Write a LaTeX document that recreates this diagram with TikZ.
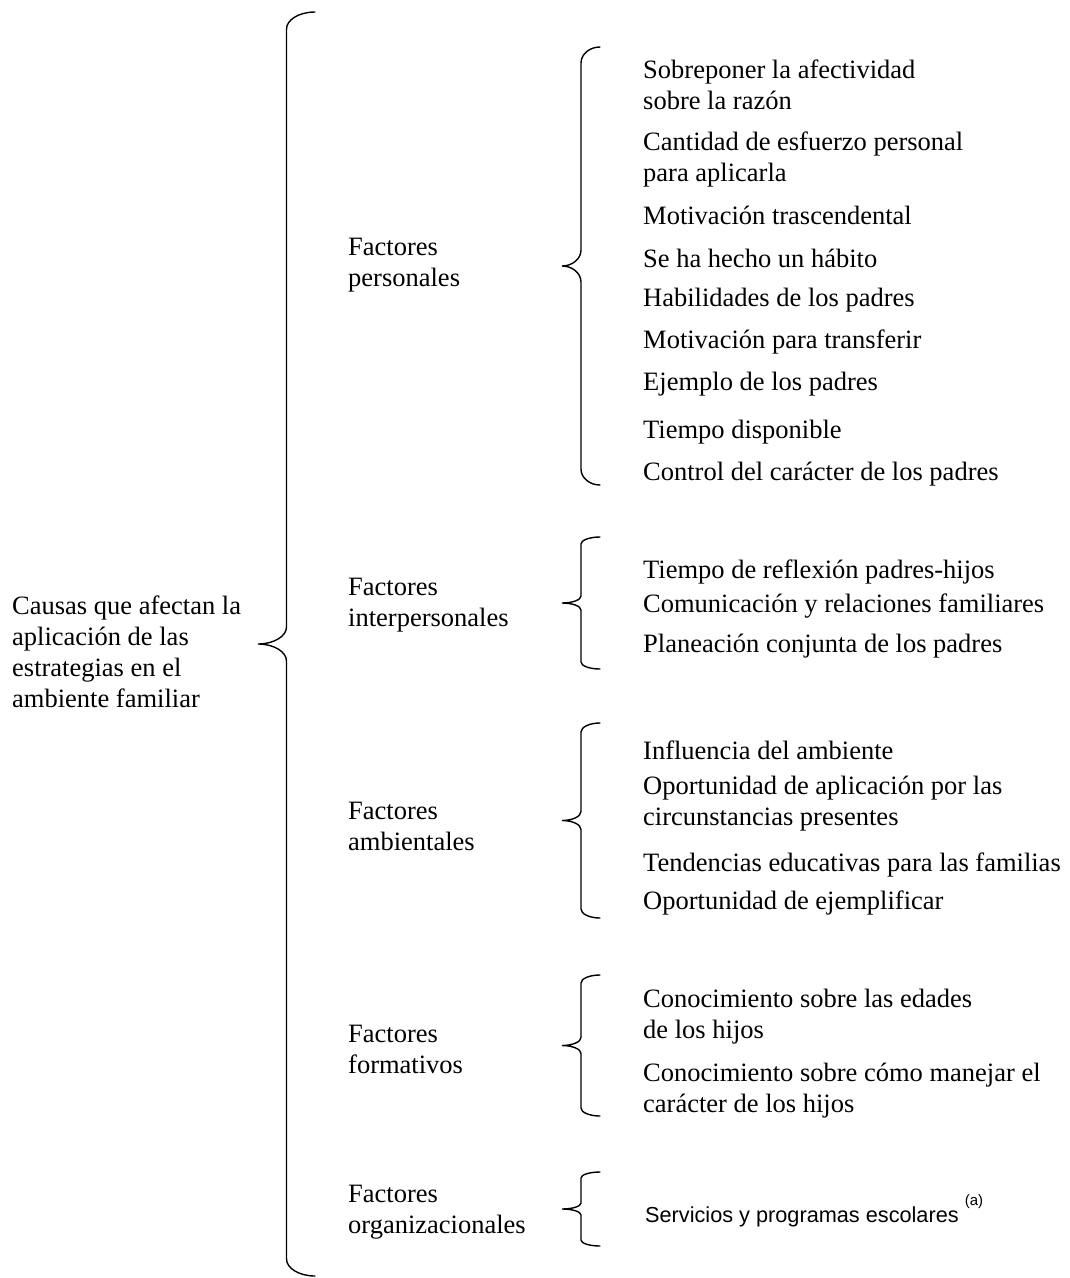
\documentclass[tikz,border=0pt]{standalone}
\usepackage{fontspec}
\setmainfont{Liberation Serif}
\setsansfont{Liberation Sans}

% curly brace: end x, top y, bottom y, half width, curl length
\newcommand{\fbrace}[5]{%
  \pgfmathsetmacro{\bmid}{(#2+#3)/2}%
  \pgfmathsetmacro{\bline}{#1-#4}%
  \pgfmathsetmacro{\btip}{#1-2*#4}%
  \draw[brace line] (#1,#2)
    .. controls (#1-0.55*#4,#2) and (\bline,#2+0.45*#5) .. (\bline,#2+#5)
    -- (\bline,\bmid-#5)
    .. controls (\bline,\bmid-0.45*#5) and (\btip+0.55*#4,\bmid) .. (\btip,\bmid)
    .. controls (\btip+0.55*#4,\bmid) and (\bline,\bmid+0.45*#5) .. (\bline,\bmid+#5)
    -- (\bline,#3-#5)
    .. controls (\bline,#3-0.45*#5) and (#1-0.55*#4,#3) .. (#1,#3);}

\begin{document}
\begin{tikzpicture}[x=1pt, y=-1pt,
    every node/.style={inner sep=0pt, anchor=west, align=left, yshift=-3pt,
      font=\fontsize{26.5}{31}\selectfont},
    brace line/.style={line width=1.4pt, line cap=round}]
    \fill[white] (0,0) rectangle (1070,1278);
    \useasboundingbox (0,0) rectangle (1070,1278);

    \node (causas) at (12,648.5) {Causas que afectan la\\aplicación de las\\estrategias en el\\ambiente familiar};

    \node (personales) at (348,262) {Factores\\personales};
    \node (interpersonales) at (348,602) {Factores\\interpersonales};
    \node (ambientales) at (348,823.5) {Factores\\ambientales};
    \node (formativos) at (348,1046.5) {Factores\\formativos};
    \node (organizacionales) at (348,1209.5) {Factores\\organizacionales};

    \node (p1) at (643,81.5) {Sobreponer la afectividad\\sobre la razón};
    \node (p2) at (643,156.5) {Cantidad de esfuerzo personal\\para aplicarla};
    \node (p3) at (643,212) {Motivación trascendental};
    \node (p4) at (643,255) {Se ha hecho un hábito};
    \node (p5) at (643,297) {Habilidades de los padres};
    \node (p6) at (643,339) {Motivación para transferir};
    \node (p7) at (643,381) {Ejemplo de los padres};
    \node (p8) at (643,429) {Tiempo disponible};
    \node (p9) at (643,471) {Control del carácter de los padres};

    \node (i1) at (643,569) {Tiempo de reflexión padres-hijos};
    \node (i2) at (643,603) {Comunicación y relaciones familiares};
    \node (i3) at (643,643) {Planeación conjunta de los padres};

    \node (a1) at (643,747) {Influencia del ambiente};
    \node (a2) at (643,800.5) {Oportunidad de aplicación por las\\circunstancias presentes};
    \node (a3) at (643,862) {Tendencias educativas para las familias};
    \node (a4) at (643,900) {Oportunidad de ejemplificar};

    \node (f1) at (643,1013.5) {Conocimiento sobre las edades\\de los hijos};
    \node (f2) at (643,1087.5) {Conocimiento sobre cómo manejar el\\carácter de los hijos};

    \node[font=\sffamily\fontsize{21.7}{26}\selectfont] (o1) at (645,1208) {Servicios y programas escolares \raisebox{17pt}{\fontsize{15}{15}\selectfont(a)}};

    % braces
    \fbrace{315}{12}{1276}{28.5}{17}
    \fbrace{600}{47}{485}{19}{16}
    \fbrace{600}{537}{669}{19}{7}
    \fbrace{600}{723}{918}{19}{9}
    \fbrace{600}{975}{1116}{19}{8}
    \fbrace{600}{1172}{1246}{19}{6}
\end{tikzpicture}
\end{document}
